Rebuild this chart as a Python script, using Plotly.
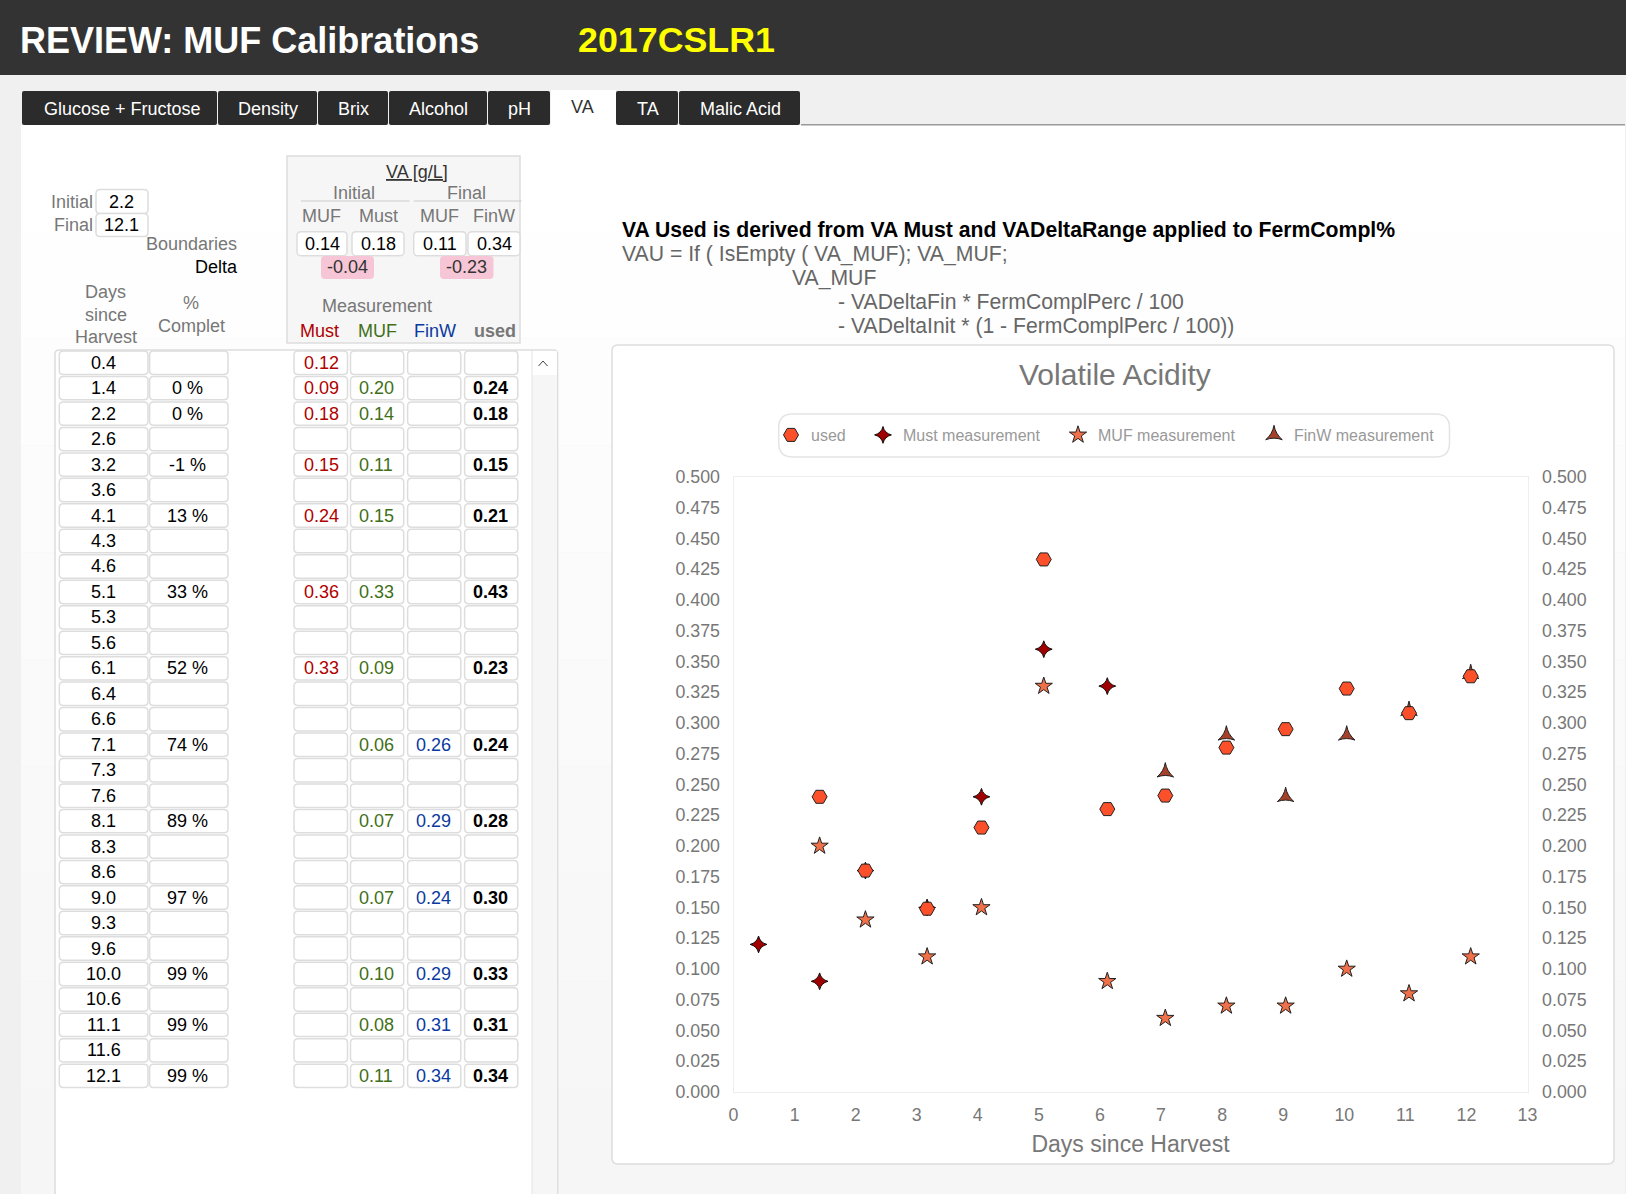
import plotly.graph_objects as go

W = 1626
H = 1194

# ----------------------------------------
# Data
days = ["0.4", "1.4", "2.2", "2.6", "3.2", "3.6", "4.1", "4.3", "4.6", "5.1", "5.3", "5.6", "6.1", "6.4",
        "6.6", "7.1", "7.3", "7.6", "8.1", "8.3", "8.6", "9.0", "9.3", "9.6", "10.0", "10.6", "11.1", "11.6", "12.1"]
pct = ["", "0 %", "0 %", "", "-1 %", "", "13 %", "", "", "33 %", "", "", "52 %", "",
       "", "74 %", "", "", "89 %", "", "", "97 %", "", "", "99 %", "", "99 %", "", "99 %"]
must_txt = ["0.12", "0.09", "0.18", "", "0.15", "", "0.24", "", "", "0.36", "", "", "0.33", "",
            "", "", "", "", "", "", "", "", "", "", "", "", "", "", ""]
muf_txt = ["", "0.20", "0.14", "", "0.11", "", "0.15", "", "", "0.33", "", "", "0.09", "",
           "", "0.06", "", "", "0.07", "", "", "0.07", "", "", "0.10", "", "0.08", "", "0.11"]
finw_txt = ["", "", "", "", "", "", "", "", "", "", "", "", "", "",
            "", "0.26", "", "", "0.29", "", "", "0.24", "", "", "0.29", "", "0.31", "", "0.34"]
used_txt = ["", "0.24", "0.18", "", "0.15", "", "0.21", "", "", "0.43", "", "", "0.23", "",
            "", "0.24", "", "", "0.28", "", "", "0.30", "", "", "0.33", "", "0.31", "", "0.34"]

used_x = [1.41, 2.16, 3.17, 4.06, 5.08, 6.12, 7.07, 8.07, 9.04, 10.04, 11.06, 12.07]
used_y = [0.24, 0.18, 0.149, 0.215, 0.433, 0.23, 0.241, 0.28, 0.295, 0.328, 0.308, 0.338]
must_x = [0.41, 1.41, 2.16, 3.17, 4.06, 5.08, 6.12]
must_y = [0.12, 0.09, 0.18, 0.15, 0.24, 0.36, 0.33]
muf_x = [1.41, 2.16, 3.17, 4.06, 5.08, 6.12, 7.07, 8.07, 9.04, 10.04, 11.06, 12.07]
muf_y = [0.20, 0.14, 0.11, 0.15, 0.33, 0.09, 0.06, 0.07, 0.07, 0.10, 0.08, 0.11]
finw_x = [7.07, 8.07, 9.04, 10.04, 11.06, 12.07]
finw_y = [0.26, 0.29, 0.24, 0.29, 0.31, 0.34]

tabs = ["Glucose + Fructose", "Density", "Brix", "Alcohol", "pH", "VA", "TA", "Malic Acid"]
tab_edges = [22, 218, 318, 389, 488, 551, 616, 679, 801]

FONT = "Liberation Sans"
GRAY = "#777777"
RED = "#b00000"
GREEN = "#3f7018"
BLUE = "#0a3aa0"

shapes = []
annotations = []


def fx(x):
    return x / W


def fy(y):
    return 1 - y / H


def rect(x0, y0, x1, y1, fill, line=None, width=1):
    shapes.append(dict(type="rect", xref="paper", yref="paper", x0=fx(x0), x1=fx(x1), y0=fy(y0), y1=fy(y1),
                       fillcolor=fill, line=dict(color=line or fill, width=width if line else 0), layer="below"))


def rrect(x0, y0, x1, y1, r=4, fill="white", line="#dddddd", width=1.5):
    p = (f"M {fx(x0 + r)} {fy(y0)} L {fx(x1 - r)} {fy(y0)} Q {fx(x1)} {fy(y0)} {fx(x1)} {fy(y0 + r)} "
         f"L {fx(x1)} {fy(y1 - r)} Q {fx(x1)} {fy(y1)} {fx(x1 - r)} {fy(y1)} "
         f"L {fx(x0 + r)} {fy(y1)} Q {fx(x0)} {fy(y1)} {fx(x0)} {fy(y1 - r)} "
         f"L {fx(x0)} {fy(y0 + r)} Q {fx(x0)} {fy(y0)} {fx(x0 + r)} {fy(y0)} Z")
    shapes.append(dict(type="path", xref="paper", yref="paper", path=p, fillcolor=fill,
                       line=dict(color=line, width=width), layer="below"))


def label(x, y, text, size=18, color=GRAY, anchor="center", bold=False):
    if bold:
        text = f"<b>{text}</b>"
    annotations.append(dict(xref="paper", yref="paper", x=fx(x), y=fy(y), text=text, showarrow=False,
                            xanchor=anchor, yanchor="middle", borderpad=0,
                            font=dict(family=FONT, size=size, color=color)))


# ----------------------------------------
# Page background
rect(0, 0, W, H, "#f0f0f0")
rect(0, 0, W, 75, "#333333")
bands = 10
for i in range(bands):
    v = 255 - round(9 * i / (bands - 1))
    y0 = 125 + (H - 125) * i / bands
    y1 = 125 + (H - 125) * (i + 1) / bands
    rect(21, y0, 1625, y1, f"rgb({v},{v},{v})")
rect(801, 124, 1625, 125.5, "#999999")

label(19, 40, "REVIEW: MUF Calibrations", size=36, color="white", anchor="left", bold=True)
label(577, 40, "2017CSLR1", size=35.8, color="#ffff00", anchor="left", bold=True)

# Tabs
for i, tab in enumerate(tabs):
    x0, x1 = tab_edges[i], tab_edges[i + 1]
    if tab == "VA":
        rect(x0, 90, x1, 126, "white")
        label((x0 + x1) / 2 - 1, 107, tab, size=18, color="#333333")
    else:
        rrect(x0, 91, x1 - 1, 125, r=2, fill="#2b2b2b", line="#2b2b2b", width=0)
        label((x0 + x1) / 2 + (2 if i == 0 else 0), 109, tab, size=18, color="white")

# ----------------------------------------
# Boundaries block
rect(287, 156, 520, 343, "#f6f6f6", "#dddddd", 1.5)
label(417, 172, "<u>VA [g/L]</u>", color="#333333")
label(353.5, 193, "Initial")
label(466.5, 193, "Final")
rect(301, 200.5, 409.5, 201.5, "#cccccc")
rect(413.7, 200.5, 521.5, 201.5, "#cccccc")
label(321, 215.7, "MUF")
label(378, 215.7, "Must")
label(439.6, 215.7, "MUF")
label(493.5, 215.7, "FinW")

label(94, 202, "Initial", anchor="right")
label(94, 224.7, "Final", anchor="right")
rrect(96, 189.5, 148, 213.5)
label(121, 202, "2.2", color="black")
rrect(96, 213.5, 148, 236.5)
label(121, 224.7, "12.1", color="black")
label(238.4, 244, "Boundaries", anchor="right")
label(238.8, 266.7, "Delta", color="black", anchor="right")

for x0, x1, txt in [(297, 347, "0.14"), (352, 404, "0.18"), (413.7, 466, "0.11"), (468, 520, "0.34")]:
    rrect(x0, 231.7, x1, 255.7)
    label((x0 + x1) / 2, 243.5, txt, color="black")
for x0, x1, txt in [(321, 374, "-0.04"), (440, 493.5, "-0.23")]:
    rrect(x0, 256, x1, 279, fill="#f6c6d6", line="#f6c6d6", width=0)
    label((x0 + x1) / 2, 266.7, txt, color="#333333")

label(105.8, 292, "Days")
label(105.8, 314.7, "since")
label(105.8, 337, "Harvest")
label(191, 303, "%")
label(191, 325.7, "Complet")
label(377, 305.7, "Measurement")
label(319.6, 331, "Must", color=RED)
label(377.5, 331, "MUF", color=GREEN)
label(434.5, 331, "FinW", color=BLUE)
label(494.5, 331, "used", bold=True)

# ----------------------------------------
# Portal with the rows
rrect(55, 350, 557.6, 1230, r=4, fill="white", line="#dddddd")
rect(532, 351, 556.8, 1194, "#f6f6f6")
rect(532, 351, 556.8, 375, "white")
rect(531.5, 351, 532.5, 1194, "#e4e4e4")
shapes.append(dict(type="path", xref="paper", yref="paper", layer="below",
                   path=f"M {fx(538.5)} {fy(366)} L {fx(543)} {fy(361)} L {fx(547.5)} {fy(366)}",
                   line=dict(color="#444444", width=1)))

columns = [
    (days, 59.3, 148, "black", False, 0),
    (pct, 149.6, 228, "black", False, -1),
    (must_txt, 294, 347.5, RED, False, 1),
    (muf_txt, 350.5, 403.7, GREEN, False, -1),
    (finw_txt, 407.6, 460.8, BLUE, False, -1),
    (used_txt, 464.6, 517.8, "black", True, -1),
]
for col, x0, x1, color, bold, shift in columns:
    for i, txt in enumerate(col):
        yc = 362.7 + 25.47 * i
        rrect(x0, yc - 11.7, x1, yc + 11.7)
        if txt:
            label((x0 + x1) / 2 + shift, yc, txt, color=color, bold=bold)

# ----------------------------------------
# Formula text
label(621, 230, "VA Used is derived from VA Must and VADeltaRange applied to FermCompl%", size=21.2, color="black",
      anchor="left", bold=True)
label(621, 254, "VAU = If ( IsEmpty ( VA_MUF); VA_MUF;", size=21.2, color="#666666", anchor="left")
label(790.7, 278, "VA_MUF", size=21.2, color="#666666", anchor="left")
label(837, 302, "- VADeltaFin * FermComplPerc / 100", size=21.2, color="#666666", anchor="left")
label(837, 326, "- VADeltaInit * (1 - FermComplPerc / 100))", size=21.2, color="#666666", anchor="left")

# ----------------------------------------
# Chart card
rrect(612, 345, 1614, 1164, r=6, fill="white", line="#dddddd")
rrect(778.7, 414, 1449.5, 457, r=14, fill="white", line="#e4e4e4")
label(1115, 375, "Volatile Acidity", size=30)

fig = go.Figure()
fig.add_trace(go.Scatter(x=finw_x, y=finw_y, mode="markers", name="FinW measurement", legend="legend4",
                         marker=dict(symbol="star-triangle-up", size=12, color="#a5402a",
                                     line=dict(color="#222222", width=1))))
fig.add_trace(go.Scatter(x=muf_x, y=muf_y, mode="markers", name="MUF measurement", legend="legend3",
                         marker=dict(symbol="star", size=13, color="#f0704a",
                                     line=dict(color="#222222", width=1))))
fig.add_trace(go.Scatter(x=must_x, y=must_y, mode="markers", name="Must measurement", legend="legend2",
                         marker=dict(symbol="star-diamond", size=12, color="#a00000",
                                     line=dict(color="#111111", width=1))))
fig.add_trace(go.Scatter(x=used_x, y=used_y, mode="markers", name="used", yaxis="y2", legend="legend",
                         marker=dict(symbol="hexagon2", size=15, color="#fb502a",
                                     line=dict(color="#222222", width=1))))

y_axis = dict(range=[0, 0.5], dtick=0.025, tickformat=".3f", showgrid=False, zeroline=False,
              showline=True, linecolor="#eeeeee", linewidth=1, mirror=True, ticks="", ticklabelstandoff=9,
              tickfont=dict(family=FONT, size=17.8, color=GRAY), domain=[fy(1092), fy(477)])


def legend_at(x):
    return dict(x=fx(x), y=fy(418), xanchor="left", yanchor="top", bgcolor="rgba(0,0,0,0)", borderwidth=0,
                font=dict(family=FONT, size=16, color="#999999"))


fig.update_layout(
    width=W,
    height=H,
    autosize=False,
    margin=dict(l=0, r=0, t=0, b=0, autoexpand=False),
    paper_bgcolor="#f0f0f0",
    plot_bgcolor="white",
    showlegend=True,
    legend=legend_at(771),
    legend2=legend_at(863),
    legend3=legend_at(1058),
    legend4=legend_at(1254),
    xaxis=dict(range=[0, 13], dtick=1, showgrid=False, zeroline=False, showline=True, linecolor="#eeeeee",
               linewidth=1, mirror=True, ticks="", ticklabelstandoff=7,
               tickfont=dict(family=FONT, size=17.8, color=GRAY), domain=[fx(733.5), fx(1527.5)],
               title=dict(text="Days since Harvest", standoff=11, font=dict(family=FONT, size=23, color=GRAY))),
    yaxis=y_axis,
    yaxis2=dict(y_axis, overlaying="y", side="right", anchor="x", ticklabelstandoff=10),
    shapes=shapes,
    annotations=annotations,
)

fig.write_html("out.html", config={"displayModeBar": False},
               post_script="document.body.style.margin='0';document.body.style.overflow='hidden';")
